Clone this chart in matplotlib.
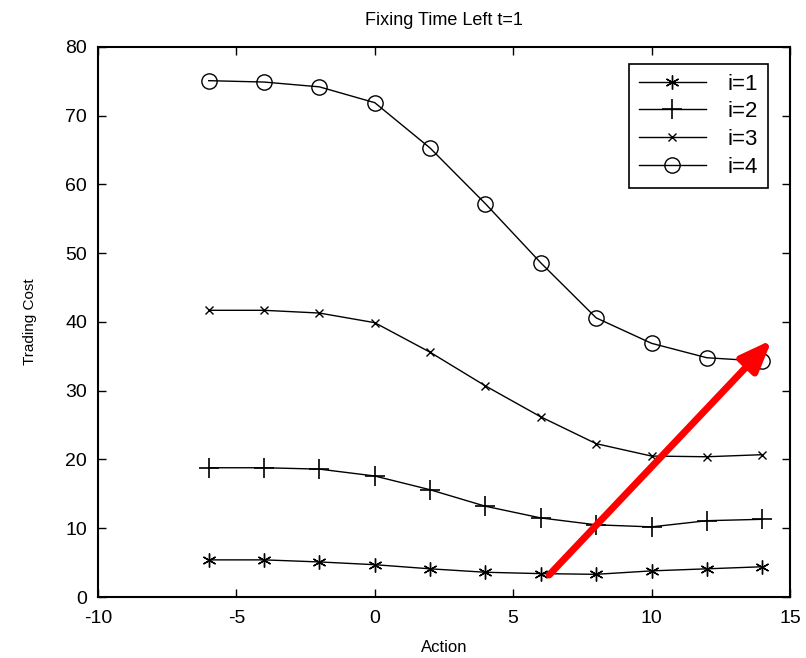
import matplotlib.pyplot as plt
import numpy as np

plt.rcParams['font.family'] = ['Liberation Sans', 'DejaVu Sans']
plt.rcParams['axes.unicode_minus'] = False

actions = [-6, -4, -2, 0, 2, 4, 6, 8, 10, 12, 14]
cost_i1 = [5.4, 5.4, 5.1, 4.7, 4.1, 3.6, 3.4, 3.3, 3.8, 4.1, 4.4]
cost_i2 = [18.8, 18.8, 18.6, 17.6, 15.6, 13.2, 11.5, 10.5, 10.2, 11.1, 11.3]
cost_i3 = [41.7, 41.7, 41.3, 39.9, 35.6, 30.7, 26.2, 22.3, 20.5, 20.4, 20.7]
cost_i4 = [75.1, 74.9, 74.2, 71.9, 65.3, 57.2, 48.6, 40.6, 36.9, 34.8, 34.3]
labels = ['i=1', 'i=2', 'i=3', 'i=4']

# arrow drawn over the plot (data coords)
arrow_start = (6.3, 3.2)
arrow_end = (14.35, 37.4)

fig = plt.figure(figsize=(8.06, 6.58), dpi=100)
ax = fig.add_axes([0.1216, 0.0927, 0.8584, 0.8359])

ax.plot(actions, cost_i1, color='k', lw=1, marker=(6, 2, 0), ms=10, label=labels[0])
ax.plot(actions, cost_i2, color='k', lw=1, marker='+', ms=15, mew=1.2, label=labels[1])
ax.plot(actions, cost_i3, color='k', lw=1, marker='x', ms=6, label=labels[2])
ax.plot(actions, cost_i4, color='k', lw=1, marker='o', ms=11, mfc='none', label=labels[3])

ax.annotate('', xy=arrow_end, xytext=arrow_start,
            arrowprops=dict(arrowstyle='-|>,head_length=1.9,head_width=0.75',
                            color='red', lw=5, shrinkA=0, shrinkB=0))

ax.set_xlim(-10, 15)
ax.set_ylim(0, 80)
ax.set_xticks([-10, -5, 0, 5, 10, 15])
ax.set_yticks(range(0, 81, 10))
ax.tick_params(direction='in', top=True, right=True, labelsize=14, length=6, width=1)
ax.tick_params(axis='x', pad=9)
ax.tick_params(axis='y', pad=8)
for s in ax.spines.values():
    s.set_linewidth(1.5)

ax.set_title('Fixing Time Left t=1', fontsize=13, pad=16)
ax.set_xlabel('Action', fontsize=12, labelpad=10)
ax.set_ylabel('Trading Cost', fontsize=11, labelpad=20)

leg = ax.legend(loc='upper right', bbox_to_anchor=(0.985, 0.99), fontsize=16,
                fancybox=False, edgecolor='k', framealpha=1, handlelength=3.0,
                labelspacing=0.3, borderpad=0.45, handletextpad=1.0)
leg.get_frame().set_linewidth(1.2)

fig.savefig('out.png', dpi=100)
